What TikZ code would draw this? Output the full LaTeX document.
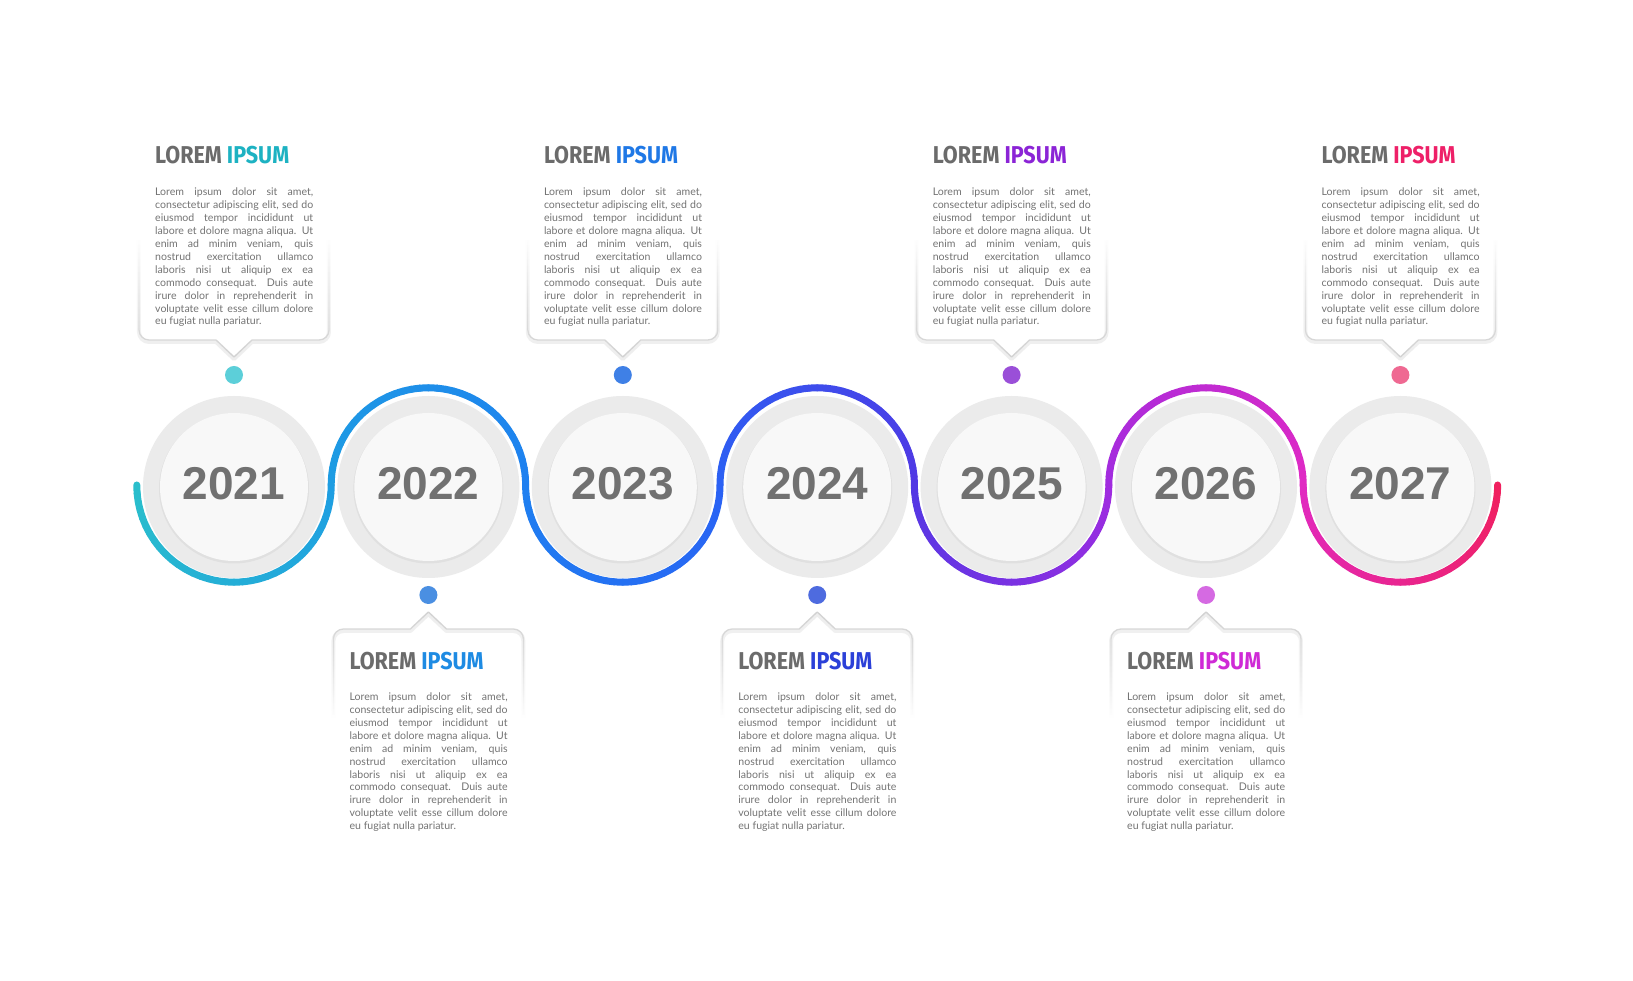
\documentclass[tikz,border=0pt]{standalone}
\usepackage{fontspec}
\usepackage{graphicx}
\usetikzlibrary{fadings}
\setmainfont{Lato}
\newfontfamily\titlefont{Fira Sans}
\newfontfamily\yearfont{Liberation Sans}
\newlength\refwidth
% wave gradient stops
\definecolor{s0}{HTML}{2ABFCB}
\definecolor{s1}{HTML}{1E9EE2}
\definecolor{s2}{HTML}{1E80F0}
\definecolor{s3}{HTML}{2A62F4}
\definecolor{s4}{HTML}{5038E4}
\definecolor{s5}{HTML}{A02CE0}
\definecolor{s6}{HTML}{E02AC4}
\definecolor{s7}{HTML}{F0205E}
% title accent colours
\definecolor{ip0}{HTML}{1DB2C2}
\definecolor{ip1}{HTML}{1E8BE3}
\definecolor{ip2}{HTML}{1F78E6}
\definecolor{ip3}{HTML}{2B40D8}
\definecolor{ip4}{HTML}{8B24D6}
\definecolor{ip5}{HTML}{CF2AD6}
\definecolor{ip6}{HTML}{EE2068}
% dot colours
\definecolor{dt0}{HTML}{5CCFD9}
\definecolor{dt1}{HTML}{4A8FE2}
\definecolor{dt2}{HTML}{3F80E6}
\definecolor{dt3}{HTML}{4E6BDF}
\definecolor{dt4}{HTML}{9A4FD8}
\definecolor{dt5}{HTML}{D56AE2}
\definecolor{dt6}{HTML}{EF6992}
% neutrals
\definecolor{ringgray}{HTML}{EBEBEB}
\definecolor{diskgray}{HTML}{F8F8F8}
\definecolor{diskshadow}{HTML}{E0E0E0}
\definecolor{yeargray}{HTML}{717171}
\definecolor{titlegray}{HTML}{6B6B6B}
\definecolor{bodygray}{HTML}{737373}
\definecolor{boxgray}{HTML}{D2D2D2}
\definecolor{boxshadow}{HTML}{EDEDED}
\tikzfading[name=fadeup, top color=transparent!100, middle color=transparent!0, bottom color=transparent!0]
\tikzfading[name=fadedown, top color=transparent!0, middle color=transparent!0, bottom color=transparent!100]
\newcommand\bodytext{%
\makebox[158pt][s]{Lorem ipsum dolor sit amet,}\\
\makebox[158pt][s]{consectetur adipiscing elit, sed do}\\
\makebox[158pt][s]{eiusmod tempor incididunt ut}\\
\makebox[158pt][s]{labore et dolore magna aliqua. Ut}\\
\makebox[158pt][s]{enim ad minim veniam, quis}\\
\makebox[158pt][s]{nostrud exercitation ullamco}\\
\makebox[158pt][s]{laboris nisi ut aliquip ex ea}\\
\makebox[158pt][s]{commodo consequat. Duis aute}\\
\makebox[158pt][s]{irure dolor in reprehenderit in}\\
\makebox[158pt][s]{voluptate velit esse cillum dolore}\\
eu fugiat nulla pariatur.}
\newcommand\titletext[1]{\resizebox{134pt}{17.3pt}{\titlefont\bfseries{\color{titlegray}LOREM} {\color{#1}IPSUM}}}
\tikzset{
  wave/.style={line width=7pt, line cap=round},
  ring/.style={fill=ringgray, draw=none},
  disk/.style={fill=diskgray, draw=none},
  dshadow/.style={fill=diskshadow, draw=none},
  yearlabel/.style={font=\yearfont\bfseries\fontsize{46}{46}\selectfont, text=yeargray, inner sep=0, anchor=base},
  titlelabel/.style={inner sep=0, anchor=base west},
  bodylabel/.style={inner sep=0, anchor=base west, text=bodygray},
  boxline/.style={draw=boxgray, line width=1.3pt, line join=round},
  boxshade/.style={draw=boxshadow, line width=4pt, line join=round},
  dotmark/.style={circle, inner sep=0, minimum size=18pt, draw=none}
}
\begin{document}
\settowidth{\refwidth}{\fontsize{10}{12}\selectfont consectetur adipiscing elit, sed do}%
\pgfmathsetmacro\bodysize{10*156/\refwidth}%
\begin{tikzpicture}[x=1pt,y=1pt]
\fill[white] (0,0) rectangle (1633,980);
\useasboundingbox (0,0) rectangle (1633,980);
% circles
\foreach \k/\yr in {0/2021,1/2022,2/2023,3/2024,4/2025,5/2026,6/2027} {
  \pgfmathsetmacro\cx{234+194.4*\k}
  \fill[ring] (\cx,493) circle[radius=91];
  \fill[dshadow] (\cx,491.5) circle[radius=75];
  \fill[disk] (\cx,493) circle[radius=74];
  \node[yearlabel] (y\k) at (\cx,480) {\yr};
}
% gradient wave
\foreach \k in {0,...,6} {
  \pgfmathtruncatemacro\kk{\k+1}
  \pgfmathsetmacro\cx{234+194.4*\k}
  \pgfmathsetmacro\sg{ifthenelse(mod(\k,2)==0,1,-1)}
  \foreach \j in {0,...,35} {
    \pgfmathsetmacro\aA{180+\sg*5*\j}
    \pgfmathsetmacro\aB{180+\sg*5*(\j+1)}
    \pgfmathtruncatemacro\p{100-100*(\j+0.5)/36}
    \draw[wave, draw=s\k!\p!s\kk] (\cx,495) ++(\aA:97.2) arc[start angle=\aA, end angle=\aB, radius=97.2];
  }
}
% top callouts
\foreach \k in {0,2,4,6} {
  \pgfmathsetmacro\cx{234+194.4*\k}
  \draw[boxshade, path fading=fadeup] (\cx-95,740) -- (\cx-95,648) arc[start angle=180,end angle=270,radius=10] -- (\cx-18,638) -- (\cx,621) -- (\cx+18,638) -- (\cx+85,638) arc[start angle=270,end angle=360,radius=10] -- (\cx+95,740);
  \draw[boxline, path fading=fadeup] (\cx-95,740) -- (\cx-95,650) arc[start angle=180,end angle=270,radius=10] -- (\cx-18,640) -- (\cx,623) -- (\cx+18,640) -- (\cx+85,640) arc[start angle=270,end angle=360,radius=10] -- (\cx+95,740);
  \node[dotmark, fill=dt\k] (d\k) at (\cx,605) {};
  \node[titlelabel] (t\k) at (\cx-79,816.7) {\titletext{ip\k}};
  \node[bodylabel] (b\k) at (\cx-79,784) {\parbox[t]{158pt}{\fontsize{\bodysize}{12.9}\selectfont\bodytext}};
}
% bottom callouts
\foreach \k in {1,3,5} {
  \pgfmathsetmacro\cx{234+194.4*\k}
  \draw[boxshade, path fading=fadedown] (\cx-95,262) -- (\cx-95,339) arc[start angle=180,end angle=90,radius=10] -- (\cx-18,349) -- (\cx,366) -- (\cx+18,349) -- (\cx+85,349) arc[start angle=90,end angle=0,radius=10] -- (\cx+95,262);
  \draw[boxline, path fading=fadedown] (\cx-95,265) -- (\cx-95,341) arc[start angle=180,end angle=90,radius=10] -- (\cx-18,351) -- (\cx,368) -- (\cx+18,351) -- (\cx+85,351) arc[start angle=90,end angle=0,radius=10] -- (\cx+95,265);
  \node[dotmark, fill=dt\k] (d\k) at (\cx,385) {};
  \node[titlelabel] (t\k) at (\cx-79,310.7) {\titletext{ip\k}};
  \node[bodylabel] (b\k) at (\cx-79,279.3) {\parbox[t]{158pt}{\fontsize{\bodysize}{12.9}\selectfont\bodytext}};
}
\end{tikzpicture}
\end{document}
